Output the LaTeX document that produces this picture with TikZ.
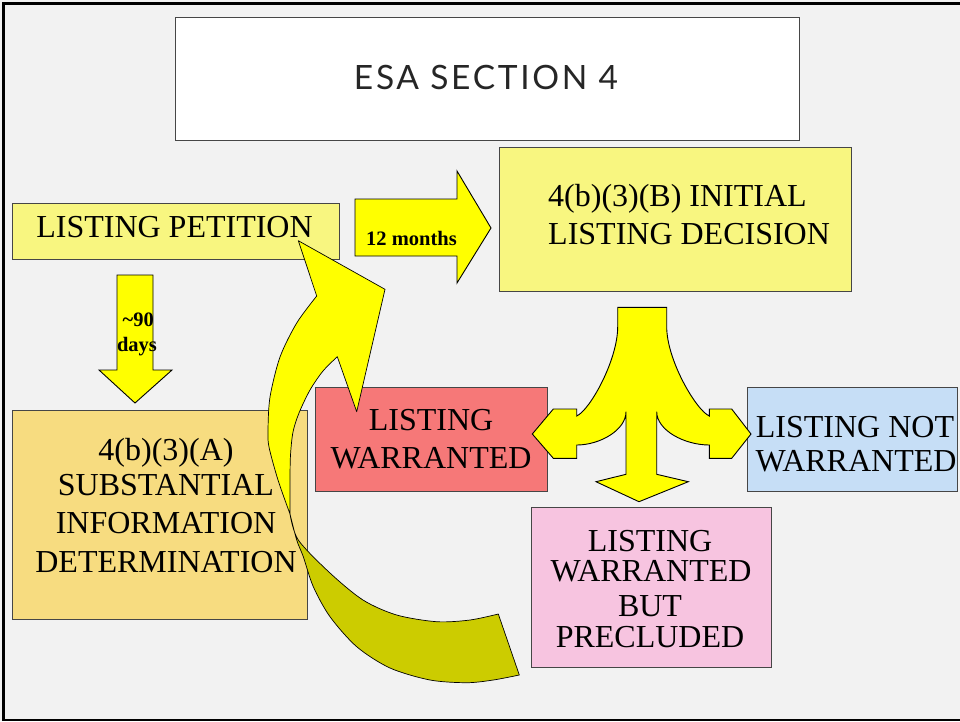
\documentclass[tikz,border=0pt]{standalone}
\usepackage{fontspec}
\setmainfont{Liberation Serif}
\newfontfamily\titlefont[LetterSpace=8]{Lato}
\definecolor{bg}{RGB}{242,242,242}
\definecolor{boxline}{RGB}{70,70,70}
\definecolor{paleyellow}{RGB}{248,246,128}
\definecolor{paleorange}{RGB}{247,220,128}
\definecolor{salmon}{RGB}{246,120,120}
\definecolor{paleblue}{RGB}{198,222,246}
\definecolor{palepink}{RGB}{247,196,224}
\definecolor{arrowyellow}{RGB}{255,255,0}
\definecolor{olivearrow}{RGB}{204,204,0}
\definecolor{titlegray}{RGB}{38,38,38}
\begin{document}
\begin{tikzpicture}[x=1pt,y=-1pt,
  box/.style={draw=boxline, line width=1pt, inner sep=0pt, outer sep=0pt},
  txt/.style={font=\fontsize{32}{36}\selectfont, inner sep=0pt, anchor=base, text=black},
  btxt/.style={font=\fontsize{20.5}{24}\selectfont\bfseries, inner sep=0pt, anchor=base, text=black},
  yarrow/.style={fill=arrowyellow, draw=black, line width=0.9pt, line join=miter},
  bandarrow/.style={draw=black, line width=0.7pt, line join=round}
]
\path[use as bounding box, fill=bg] (0,0) rectangle (960,721);
% frame
\draw[line width=3pt] (3.5,721) -- (3.5,3.5) -- (962,3.5);
\draw[line width=1.2pt] (3.5,720) -- (962,720);

% boxes
\node[box, fill=white, minimum width=624pt, minimum height=123pt] (title) at (487,78.5) {};
\node[font=\titlefont\fontsize{33.5}{38}\selectfont, text=titlegray, inner sep=0pt, anchor=base] (titletext) at (486,89) {ESA SECTION 4};

\node[box, fill=paleyellow, minimum width=327pt, minimum height=56pt] (petition) at (175.5,231) {};
\node[txt] (petitiontext) at (174.5,237) {LISTING PETITION};

\node[box, fill=paleyellow, minimum width=352pt, minimum height=144pt] (initial) at (675,219) {};
\node[txt, anchor=base west] (initial1) at (548,206) {4(b)(3)(B) INITIAL};
\node[txt, anchor=base west] (initial2) at (548,244) {LISTING DECISION};

\node[box, fill=paleorange, minimum width=295pt, minimum height=209pt] (subst) at (159.5,514.5) {};
\node[txt] (subst1) at (166,460) {4(b)(3)(A)};
\node[txt] (subst2) at (166,495) {SUBSTANTIAL};
\node[txt] (subst3) at (166,533) {INFORMATION};
\node[txt] (subst4) at (166,572) {DETERMINATION};

\node[box, fill=salmon, minimum width=232pt, minimum height=104pt] (warranted) at (431,439) {};
\node[txt] (warr1) at (431,430) {LISTING};
\node[txt] (warr2) at (431,468) {WARRANTED};

\node[box, fill=paleblue, minimum width=210pt, minimum height=104pt] (notwarr) at (852,439) {};
\node[txt] (notw1) at (855,437) {LISTING NOT};
\node[txt] (notw2) at (856,471) {WARRANTED};

\node[box, fill=palepink, minimum width=240pt, minimum height=160pt] (precluded) at (651,587) {};
\node[txt] (prec1) at (650,551) {LISTING};
\node[txt] (prec2) at (651,581) {WARRANTED};
\node[txt] (prec3) at (650,616) {BUT};
\node[txt] (prec4) at (650,647) {PRECLUDED};

% 12 months arrow
\draw[yarrow] (355,199) -- (457,199) -- (457,171) -- (491,228) -- (457,283) -- (457,256) -- (355,256) -- cycle;
\node[btxt] (months) at (411.5,245) {12 months};

% ~90 days arrow
\draw[yarrow] (117,275) -- (153,275) -- (153,370) -- (172,370) -- (135,403) -- (99,370) -- (117,370) -- cycle;
\node[btxt] (ninety) at (138.3,326.5) {\textasciitilde 90};
\node[btxt] (days) at (137,351.5) {days};

% three-way arrow
\draw[yarrow] (617.7,307.3) -- (666.7,307.3) -- (666.7,326.7)
  .. controls (666.7,360) and (696,410) .. (709.3,416)
  -- (709.3,409) -- (731.7,409) -- (751,434) -- (731.7,458.3) -- (709.3,458.3) -- (709.3,445)
  .. controls (684,445) and (656.7,430) .. (656.7,411.7)
  -- (656.7,474.3) -- (688.3,481.7) -- (639,501.7) -- (596,481.7) -- (626,474.3) -- (626,411.7)
  .. controls (626,430) and (600,445) .. (576.7,445)
  -- (576.7,458.3) -- (553.3,458.3) -- (532.3,434) -- (553.3,409) -- (576.7,409) -- (576.7,416)
  .. controls (590,410) and (617.7,360) .. (617.7,326.7) -- cycle;

% curved return arrow: lower (dark) part
\path[bandarrow, fill=olivearrow] (290,514)
  -- plot[smooth] coordinates {(290,514) (296.7,540) (303.3,556.7) (313.3,586.7) (330,616.7) (356.7,646.7) (390,668) (430,680) (466.7,682.7) (493.3,680) (519.3,675)}
  -- (498.3,614)
  -- plot[smooth] coordinates {(498.3,614) (470,620) (436.7,621.7) (396.7,615) (363,600) (330,573) (298.3,540) (290,514)}
  -- cycle;
% curved return arrow: upper (bright) part with head
\path[bandarrow, fill=arrowyellow] (290,514)
  -- plot[smooth] coordinates {(290,514) (278,480) (269,447) (268,430) (270,397) (280,357) (296.7,323) (316.7,296)}
  -- (298.3,240.7) -- (385,289.3) -- (356.7,411.7) -- (337.3,356.7)
  -- plot[smooth] coordinates {(337.3,356.7) (323,371) (310,390) (299,413) (293,432) (290.5,455) (290,480) (290,514)}
  -- cycle;
\end{tikzpicture}
\end{document}
